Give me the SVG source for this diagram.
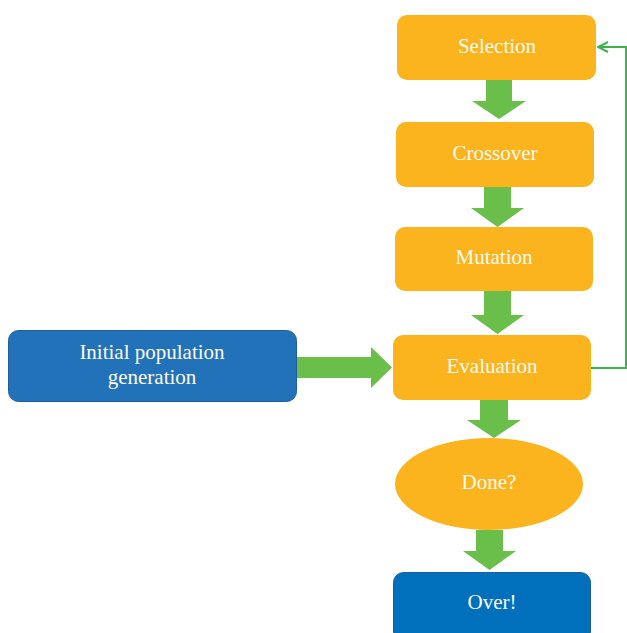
<svg xmlns="http://www.w3.org/2000/svg" width="627" height="633" viewBox="0 0 627 633">
  <defs>
    <style>
      .step { fill: #fbb41e; }
      .blue { fill: #2272b9; stroke: #1d5f9c; stroke-width: 1; }
      .over { fill: #0070bd; stroke: #1d5f9c; stroke-width: 1; }
      .label { font-family: "Liberation Serif", "DejaVu Serif", serif; font-size: 21px; fill: #fffaf0; text-anchor: middle; }
      .flow { fill: #6abf4b; }
      .loop { fill: none; stroke: #3cb44b; stroke-width: 2; }
    </style>
    <!-- open chevron head for the loop line -->
    <marker id="open-head" viewBox="0 0 12 12" refX="11" refY="6" markerWidth="12" markerHeight="12" markerUnits="userSpaceOnUse" orient="auto">
      <path d="M1,1 L11,6 L1,11" fill="none" stroke="#3cb44b" stroke-width="2"/>
    </marker>
  </defs>

  <rect width="627" height="633" fill="#ffffff"/>

  <g id="node-selection">
    <rect class="step" x="397" y="15" width="199" height="65" rx="10"/>
    <text class="label" x="497" y="53">Selection</text>
  </g>

  <g id="node-crossover">
    <rect class="step" x="396" y="122" width="198" height="65" rx="10"/>
    <text class="label" x="495" y="160">Crossover</text>
  </g>

  <g id="node-mutation">
    <rect class="step" x="395" y="227" width="198" height="64" rx="10"/>
    <text class="label" x="494" y="264">Mutation</text>
  </g>

  <g id="node-initial">
    <rect class="blue" x="8.5" y="330.5" width="288" height="71" rx="10"/>
    <text class="label" x="152" y="359">Initial population</text>
    <text class="label" x="152" y="384">generation</text>
  </g>

  <g id="node-evaluation">
    <rect class="step" x="393" y="335" width="198" height="65" rx="10"/>
    <text class="label" x="492" y="373">Evaluation</text>
  </g>

  <g id="node-done">
    <ellipse class="step" cx="489" cy="484" rx="94" ry="46"/>
    <text class="label" x="489" y="489">Done?</text>
  </g>

  <g id="node-over">
    <rect class="over" x="393.5" y="572.5" width="197" height="70" rx="10"/>
    <text class="label" x="492" y="609">Over!</text>
  </g>

  <!-- connectors -->
  <g id="connectors">
    <!-- Selection -> Crossover -->
    <path class="flow" d="M486,80 H512 V101 H526 L499,119 L472,101 H486 Z"/>
    <!-- Crossover -> Mutation -->
    <path class="flow" d="M484,187 H511 V208 H524 L497.5,227 L471,208 H484 Z"/>
    <!-- Mutation -> Evaluation -->
    <path class="flow" d="M484,291 H511 V315 H524 L497.5,334 L471,315 H484 Z"/>
    <!-- Initial population -> Evaluation -->
    <path class="flow" d="M297,357 H371 V347 L392,367.5 L371,388 V378 H297 Z"/>
    <!-- Evaluation -> Done? -->
    <path class="flow" d="M480,400 H508 V420 H521 L494,438 L467,420 H480 Z"/>
    <!-- Done? -> Over! -->
    <path class="flow" d="M476,530 H503 V551 H516 L489.5,570 L463,551 H476 Z"/>
    <!-- loop back from Evaluation to Selection -->
    <path class="loop" d="M591,368 H626 V47 H598" marker-end="url(#open-head)"/>
  </g>
</svg>
